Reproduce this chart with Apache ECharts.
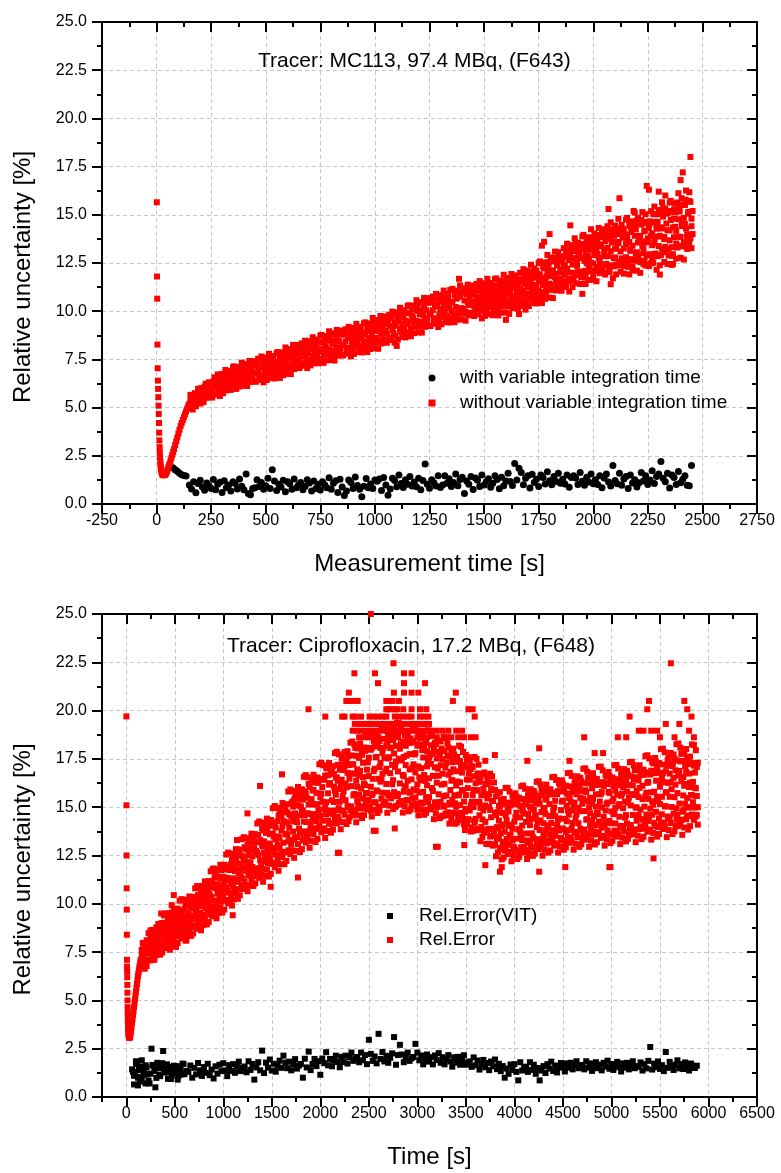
<!DOCTYPE html>
<html>
<head>
<meta charset="utf-8">
<script src="https://cdn.jsdelivr.net/npm/echarts@6/dist/echarts.min.js"></script>
<style>
html,body{margin:0;padding:0;background:#fff}
#chart{width:781px;height:1173px}
</style>
</head>
<body>
<div id="chart"></div>
<script>
// ---------- Upper panel: MC113, 97.4 MBq (F643) ----------
const topTitle = 'Tracer: MC113, 97.4 MBq, (F643)';
const topNames = ['with variable integration time', 'without variable integration time'];

// first seconds of the scan, constant integration time (s, %)
const topRedStartTime = [1,2,3,4,5,6,7,8,9,10,11,12,13,14,15,16,17,18,19,20,22,24,26,28,30,33,36,39,42,45,48,51,54,57,60,64,68,72,76,80,85,90,95,100,105,110,115,120,125,130,135,140,145,150];
const topRedStartValue = [15.65,11.8,10.65,8.27,7.04,6.4,5.97,5.54,5.1,4.67,4.2,3.7,3.3,2.95,2.65,2.4,2.2,2.05,1.9,1.8,1.68,1.6,1.55,1.52,1.5,1.49,1.5,1.52,1.56,1.62,1.7,1.8,1.9,2.0,2.1,2.25,2.4,2.55,2.7,2.85,3.05,3.25,3.45,3.65,3.85,4.05,4.2,4.35,4.5,4.65,4.8,4.95,5.1,5.2];

// rest of the scan: time stamps [s]; several readings per stamp
const topRedBandTime = [
155,160,165,170,175,180,185,190,195,200,205,210,215,220,225,230,235,240,245,250,
255,260,265,270,275,280,285,290,295,300,305,310,315,320,325,330,335,340,345,350,
355,360,365,370,375,380,385,390,395,400,405,410,415,420,425,430,435,440,445,450,
455,460,465,470,475,480,485,490,495,500,505,510,515,520,525,530,535,540,545,550,
555,560,565,570,575,580,585,590,595,600,605,610,615,620,625,630,635,640,645,650,
655,660,665,670,675,680,685,690,695,700,705,710,715,720,725,730,735,740,745,750,
755,760,765,770,775,780,785,790,795,800,805,810,815,820,825,830,835,840,845,850,
855,860,865,870,875,880,885,890,895,900,905,910,915,920,925,930,935,940,945,950,
955,960,965,970,975,980,985,990,995,1000,1005,1010,1015,1020,1025,1030,1035,1040,1045,1050,
1055,1060,1065,1070,1075,1080,1085,1090,1095,1100,1105,1110,1115,1120,1125,1130,1135,1140,1145,1150,
1155,1160,1165,1170,1175,1180,1185,1190,1195,1200,1205,1210,1215,1220,1225,1230,1235,1240,1245,1250,
1255,1260,1265,1270,1275,1280,1285,1290,1295,1300,1305,1310,1315,1320,1325,1330,1335,1340,1345,1350,
1355,1360,1365,1370,1375,1380,1385,1390,1395,1400,1405,1410,1415,1420,1425,1430,1435,1440,1445,1450,
1455,1460,1465,1470,1475,1480,1485,1490,1495,1500,1505,1510,1515,1520,1525,1530,1535,1540,1545,1550,
1555,1560,1565,1570,1575,1580,1585,1590,1595,1600,1605,1610,1615,1620,1625,1630,1635,1640,1645,1650,
1655,1660,1665,1670,1675,1680,1685,1690,1695,1700,1705,1710,1715,1720,1725,1730,1735,1740,1745,1750,
1755,1760,1765,1770,1775,1780,1785,1790,1795,1800,1805,1810,1815,1820,1825,1830,1835,1840,1845,1850,
1855,1860,1865,1870,1875,1880,1885,1890,1895,1900,1905,1910,1915,1920,1925,1930,1935,1940,1945,1950,
1955,1960,1965,1970,1975,1980,1985,1990,1995,2000,2005,2010,2015,2020,2025,2030,2035,2040,2045,2050,
2055,2060,2065,2070,2075,2080,2085,2090,2095,2100,2105,2110,2115,2120,2125,2130,2135,2140,2145,2150,
2155,2160,2165,2170,2175,2180,2185,2190,2195,2200,2205,2210,2215,2220,2225,2230,2235,2240,2245,2250,
2255,2260,2265,2270,2275,2280,2285,2290,2295,2300,2305,2310,2315,2320,2325,2330,2335,2340,2345,2350,
2355,2360,2365,2370,2375,2380,2385,2390,2395,2400,2405,2410,2415,2420,2425,2430,2435,2440,2445,2450,
2455
];
const topRedBandA = [
5.36,5.05,5.61,5.30,5.59,5.14,5.53,5.74,5.43,5.93,5.48,5.76,5.45,6.02,5.81,5.75,6.03,5.58,6.18,5.98,
5.86,6.24,5.74,6.16,6.43,6.08,5.96,6.34,6.23,5.98,6.54,6.42,6.17,6.73,6.37,6.61,6.22,6.53,6.80,6.44,
6.80,6.53,6.31,6.74,6.66,6.47,6.98,6.57,6.90,6.40,6.80,6.92,6.56,6.78,7.08,6.68,6.95,6.61,7.22,6.82,
6.82,7.26,6.97,6.72,7.15,6.60,7.11,7.28,6.88,7.04,6.79,7.31,7.17,7.00,7.42,6.84,7.31,7.13,7.38,7.01,
7.33,6.93,7.59,7.19,7.51,6.94,7.38,7.62,7.22,7.80,7.23,7.54,7.15,7.80,7.54,7.43,7.75,7.19,7.88,7.62,
7.47,7.94,7.29,7.80,8.14,7.67,7.51,7.98,7.82,7.48,8.18,8.02,7.68,8.37,7.90,8.20,7.68,8.06,8.39,7.92,
8.39,8.02,7.70,8.29,8.16,7.89,8.58,8.02,8.47,7.76,8.31,8.47,7.95,8.26,8.65,8.10,8.45,7.98,8.82,8.25,
8.25,8.82,8.43,8.10,8.66,7.93,8.60,8.81,8.28,8.49,8.16,8.83,8.64,8.41,8.97,8.19,8.81,8.57,8.89,8.40,
8.80,8.32,9.09,8.61,8.98,8.31,8.83,9.10,8.62,9.29,8.61,8.98,8.50,9.27,8.94,8.82,9.19,8.51,9.33,9.00,
8.83,9.40,8.61,9.23,9.65,9.06,8.86,9.44,9.24,8.20,9.68,9.48,9.06,9.91,9.33,9.69,9.05,9.51,9.92,9.34,
9.89,9.47,9.11,9.79,9.66,9.35,10.14,9.51,10.02,9.22,9.85,10.04,9.46,9.81,10.27,9.64,10.05,9.53,10.48,9.84,
9.83,10.51,10.05,9.64,10.32,9.44,10.24,10.50,9.85,10.11,9.71,10.51,10.29,10.00,10.68,9.74,10.48,10.20,11.10,9.99,
10.48,9.89,10.81,10.22,10.65,9.83,11.68,10.75,10.16,10.96,10.13,10.56,9.98,10.89,10.48,10.32,10.75,9.92,10.89,10.49,
10.27,10.98,9.94,10.72,11.22,10.47,10.20,10.91,10.64,10.09,11.15,10.88,10.33,11.39,10.63,11.07,10.24,10.81,11.31,10.55,
11.31,10.68,10.14,11.11,10.88,10.42,11.55,10.60,11.33,9.55,11.04,11.29,10.43,10.92,11.57,10.63,11.20,10.41,11.78,10.84,
10.83,9.85,11.14,10.57,11.53,10.28,11.42,11.78,10.87,11.23,10.67,11.80,11.48,11.09,12.04,10.71,11.76,11.36,11.90,11.08,
11.79,10.87,13.40,11.41,13.60,10.81,11.79,12.29,11.38,14.00,11.35,12.04,11.12,12.59,11.95,11.70,12.39,11.09,12.65,12.02,
11.70,12.73,11.26,12.40,13.13,12.06,11.69,12.72,14.45,11.59,13.12,12.75,11.98,13.52,12.45,13.08,11.91,12.74,13.48,10.90,
13.47,12.61,11.86,13.20,12.89,12.26,13.82,12.52,13.53,11.90,13.13,13.48,12.29,12.97,13.87,12.58,13.37,12.29,14.18,12.88,
12.86,14.20,13.25,15.30,13.76,11.40,13.56,14.05,12.75,13.24,12.42,14.00,13.53,15.86,14.28,12.38,13.84,13.25,13.99,12.80,
13.79,12.51,14.47,13.19,14.11,12.31,15.20,14.29,13.01,14.71,12.91,13.84,12.55,14.52,13.62,13.25,14.18,12.37,16.50,13.57,
16.30,14.56,12.48,14.04,15.04,13.53,12.99,14.41,13.87,16.20,11.90,14.35,13.25,15.37,13.85,16.00,13.06,14.20,15.20,13.68,
15.15,12.40,12.96,14.80,14.38,13.51,15.64,13.87,15.26,16.80,14.72,17.20,13.58,14.52,15.75,13.98,15.06,13.59,18.00,14.41,
14.00
];
const topRedBandB = [
5.66,4.98,4.90,5.64,5.75,5.07,5.27,5.98,5.86,5.21,6.01,5.42,5.28,6.09,6.24,5.51,5.60,6.31,6.22,5.65,
5.52,6.36,6.57,5.70,5.67,6.72,6.59,5.60,5.87,6.74,5.75,6.71,6.95,6.08,5.90,6.89,6.82,5.92,6.10,7.09,
7.14,6.12,5.97,6.99,7.11,6.09,6.34,7.33,7.11,6.13,7.25,6.36,6.12,7.24,7.42,6.33,6.42,7.41,7.23,6.37,
6.34,7.31,7.53,6.50,6.44,7.65,7.49,6.31,6.61,7.60,6.43,7.54,7.79,6.76,6.53,7.67,7.58,6.51,6.70,7.83,
7.88,6.70,6.54,7.72,7.86,6.68,6.97,8.12,7.88,6.75,8.04,7.01,6.74,8.04,8.25,7.00,7.09,8.25,8.04,7.06,
7.05,8.08,8.33,7.22,7.17,8.47,8.31,7.05,7.37,8.44,7.19,8.37,8.65,7.55,7.30,8.53,8.44,7.30,7.51,8.73,
8.77,7.51,7.32,8.58,8.71,7.45,7.75,8.96,8.70,7.47,8.85,7.75,7.44,8.82,9.03,7.69,7.79,9.00,8.78,7.71,
7.71,8.81,9.06,7.88,7.81,9.19,9.01,7.66,8.00,9.13,7.79,9.05,9.34,8.16,7.89,9.19,9.09,7.86,8.08,9.37,
9.42,8.08,7.88,9.22,9.37,8.04,8.36,9.65,9.37,8.08,9.54,8.37,8.05,9.52,9.75,8.33,8.44,9.73,9.50,8.37,
8.37,9.54,9.82,8.57,8.51,9.98,9.79,8.37,8.73,9.94,8.53,9.86,10.18,8.94,8.66,10.05,9.94,8.64,8.89,10.27,
10.31,8.89,8.70,10.11,10.28,8.86,9.19,10.57,10.28,8.90,10.46,9.22,8.89,10.44,10.69,9.19,9.30,10.68,10.43,9.23,
9.23,10.47,10.76,9.42,9.35,10.90,10.69,9.18,9.55,10.83,9.32,10.74,11.07,9.73,9.44,10.90,10.78,9.41,9.64,11.10,
11.16,9.65,9.43,10.91,11.06,9.56,9.91,11.34,11.02,9.57,11.19,9.87,9.51,11.14,11.38,9.79,9.89,11.33,11.05,9.79,
9.75,11.11,11.42,9.93,9.84,11.56,11.32,9.63,10.04,11.45,9.76,11.32,11.68,10.19,9.85,11.47,11.33,9.79,10.05,11.66,
11.70,10.03,9.78,11.42,11.59,9.93,10.31,11.89,11.53,9.93,11.72,10.26,9.86,11.66,11.93,10.16,10.28,11.86,11.56,10.16,
10.12,11.64,11.99,10.37,10.28,12.18,11.93,10.08,10.55,12.11,10.27,12.01,12.41,10.79,10.43,12.22,12.08,10.40,10.70,12.49,
12.58,10.69,10.42,12.32,12.53,10.64,11.09,12.92,12.54,10.71,12.78,11.13,10.68,12.76,13.09,11.08,11.23,13.06,12.74,11.15,
11.06,12.85,13.27,11.36,11.26,13.50,13.20,11.02,11.58,13.43,11.25,13.30,13.78,11.87,11.45,13.56,13.39,11.41,11.77,13.88,
13.96,11.74,11.41,13.60,13.83,11.62,12.13,14.25,13.78,11.63,14.03,12.09,11.55,13.95,14.32,11.97,12.13,14.25,13.85,11.98,
11.90,13.95,14.41,12.18,12.04,14.61,14.25,11.71,12.33,14.44,11.91,14.26,14.79,12.56,12.05,14.47,14.26,11.95,12.34,14.75,
14.84,12.30,11.91,14.41,14.66,12.12,12.70,15.11,14.57,12.10,14.84,12.62,11.99,14.73,15.14,12.44,12.62,15.03,14.57,12.42,
12.34,14.66,15.19,12.66,12.51,15.43,15.02,12.15,12.85,15.25,12.38,15.04,15.65,13.12,12.55,15.30,15.06,12.45,12.89,15.63,
15.72,12.87,12.45,15.28,15.58,12.73,13.39,16.12,15.53,12.77,15.86,13.37,12.68,15.78,16.26,13.23,13.44,16.17,15.67,13.27,
15.20
];
// third reading, logged for the stamps from 1455 s to 2450 s
const topRedLateFrom = 1455, topRedLateTo = 2450;
const topRedBandC = [
10.90,10.11,10.67,10.38,11.09,10.56,10.07,10.88,11.09,10.35,10.66,10.07,10.88,11.24,10.55,10.32,11.03,11.34,10.25,10.81,
11.12,10.29,10.89,10.58,11.33,10.77,10.25,11.10,11.32,10.56,10.88,10.26,11.12,11.50,10.77,10.53,11.28,11.60,10.46,11.05,
11.39,10.54,11.16,10.86,11.65,11.08,10.56,11.46,11.71,10.90,11.26,10.63,11.53,11.95,11.20,10.95,11.75,12.10,10.92,11.56,
11.92,10.99,11.68,11.36,12.23,11.60,11.03,12.02,12.30,11.43,11.82,11.13,12.12,12.58,11.77,11.50,12.37,12.76,11.48,12.17,
12.56,11.55,12.29,11.94,12.88,12.20,11.58,12.65,12.95,12.00,12.42,11.67,12.74,13.24,12.36,12.06,13.00,13.42,12.03,12.78,
13.19,12.09,12.88,12.48,13.48,12.74,12.06,13.20,13.50,12.47,12.91,12.09,13.23,13.74,12.78,12.46,13.46,13.90,12.38,13.17,
13.63,12.45,13.28,12.85,13.91,13.11,12.38,13.59,13.91,12.79,13.26,12.38,13.59,14.14,13.10,12.74,13.81,14.27,12.64,13.48,
13.96,12.70,13.59,13.13,14.26,13.40,12.62,13.91,14.25,13.06,13.56,12.62,13.91,14.49,13.38,13.00,14.14,14.63,12.89,13.78,
14.30,12.96,13.91,13.42,14.63,13.73,12.90,14.28,14.64,13.38,13.91,12.91,14.29,14.91,13.74,13.34,14.55,15.08,13.23,14.19,
14.73,13.32,14.34,13.84,15.13,14.17,13.30,14.77,15.17,13.85,14.42,13.37,14.84,15.51,14.28,13.86,15.15,15.72,13.78,14.80
];

// variable integration time: time [s] and relative uncertainty [%]
const topBlackTime = [
75,85,95,105,115,125,135,
150,160,170,180,190,200,210,220,230,240,250,260,270,280,290,300,310,320,330,340,350,360,370,380,390,400,410,420,430,440,
450,460,470,480,490,500,510,520,530,540,550,560,570,580,590,600,610,620,630,640,650,660,670,680,690,700,710,720,730,740,
750,760,770,780,790,800,810,820,830,840,850,860,870,880,890,900,910,920,930,940,950,960,970,980,990,1000,
1010,1020,1030,1040,1050,1060,1070,1080,1090,1100,1110,1120,1130,1140,1150,1160,1170,1180,1190,1200,1210,1220,1230,1240,1250,1260,1270,1280,1290,1300,
1310,1320,1330,1340,1350,1360,1370,1380,1390,1400,1410,1420,1430,1440,1450,1460,1470,1480,1490,1500,1510,1520,1530,1540,1550,1560,1570,1580,1590,1600,
1610,1620,1630,1640,1650,1660,1670,1680,1690,1700,1710,1720,1730,1740,1750,1760,1770,1780,1790,1800,1810,1820,1830,1840,1850,1860,1870,1880,1890,1900,
1910,1920,1930,1940,1950,1960,1970,1980,1990,2000,2010,2020,2030,2040,2050,2060,2070,2080,2090,2100,2110,2120,2130,2140,2150,2160,2170,2180,2190,2200,
2210,2220,2230,2240,2250,2260,2270,2280,2290,2300,2310,2320,2330,2340,2350,2360,2370,2380,2390,2400,2410,2420,2430,2440,2450
];
const topBlackValue = [
1.88,1.78,1.70,1.60,1.52,1.48,1.45,
0.99,0.78,1.16,0.58,1.06,1.23,0.88,0.71,1.09,0.95,0.81,1.27,0.74,1.02,1.13,0.60,1.20,0.85,0.99,0.67,1.16,1.06,0.78,1.30,0.92,0.74,1.55,0.55,0.48,0.81,
0.84,1.26,0.91,1.12,0.77,0.95,1.33,0.81,1.78,1.19,0.70,1.02,0.88,1.23,0.63,1.16,1.05,0.77,1.30,0.84,0.98,1.12,0.74,0.91,1.26,1.09,0.67,1.19,0.81,1.02,
0.72,1.16,1.00,0.84,1.36,0.76,1.08,1.20,0.60,1.28,0.88,0.44,0.68,1.24,1.12,0.80,1.40,0.96,0.76,0.38,0.92,1.32,0.84,1.04,0.80,1.24,
1.18,1.30,0.70,1.38,0.98,0.45,0.78,1.34,1.22,0.90,1.50,1.06,0.86,1.26,1.02,1.42,0.94,1.14,0.90,1.34,0.74,1.22,2.08,1.02,0.82,1.26,1.10,0.94,1.46,0.86,
0.99,1.47,1.07,1.31,0.91,1.11,1.55,0.95,1.27,1.39,0.55,1.19,1.03,1.43,0.75,1.35,1.23,0.91,1.51,0.99,1.15,1.31,0.87,1.07,1.47,1.27,0.79,1.39,0.95,1.19,
1.59,1.17,0.96,2.10,1.25,1.85,1.63,1.00,1.33,1.46,0.83,1.54,1.12,1.29,0.91,1.50,1.38,1.04,1.67,1.21,1.00,1.42,1.17,1.59,1.08,1.29,1.04,1.50,0.87,1.38,
1.47,1.35,1.01,1.64,1.18,0.97,1.39,1.14,1.56,1.05,1.26,1.01,1.47,0.84,1.35,1.56,1.14,0.93,2.00,1.22,1.05,1.60,0.97,1.30,1.43,0.80,1.51,1.09,1.26,0.88,
1.10,1.64,1.19,1.46,1.01,1.24,1.73,1.06,1.42,1.55,2.20,1.33,1.15,1.60,0.83,1.51,1.37,1.01,1.69,1.10,1.28,1.46,0.97,0.95,2.00
];

// ---------- Lower panel: Ciprofloxacin, 17.2 MBq (F648) ----------
const botTitle = 'Tracer: Ciprofloxacin, 17.2 MBq, (F648)';
const botNames = ['Rel.Error(VIT)', 'Rel.Error'];
const botMajorTicks = [0,500,1000,1500,2000,2500,3000,3500,4000,4500,5000,5500,6000,6500];

// start of the acquisition (s, %)
const botRedEarlyTime = [1,2,3,4,5,6,7,8,9,10,11,12,13,14,15,16,17,18,19,20,22,24,27,30,33,36,39,42,46,50,55,60,65,70,75,80,85,90,95,100,105,110,115,120,125,130,135,140,145,150];
const botRedEarlyValue = [19.7,15.1,12.5,10.8,9.7,8.4,7.1,6.75,6.5,6.2,5.8,5.4,5.0,4.65,4.35,4.1,3.9,3.7,3.55,3.45,3.3,3.2,3.12,3.08,3.06,3.08,3.12,3.2,3.32,3.45,3.65,3.85,4.05,4.25,4.45,4.65,4.85,5.05,5.25,5.45,5.65,5.85,6.05,6.25,6.4,6.55,6.7,6.85,7.0,7.1];

// each row: time [s], then the readings logged at that time [%]
const botRedRows = [
[160,6.94,7.35,7.62],[180,7.60,7.18,7.86],[200,7.43,7.95,7.06],[220,7.95,7.49,7.74],[240,7.44,8.00,7.71],[260,8.31,7.40,8.04],[280,7.99,7.76,8.33],
[300,7.68,8.64,8.25],[320,8.49,8.09,7.72],[340,7.98,8.69,8.29],[360,8.56,7.93,8.97],[380,7.78,8.52,8.77],[400,9.02,8.44,8.05],[420,8.32,8.91,7.95],[440,8.79,8.09,9.30],[460,8.33,8.94,8.60],[480,9.23,8.51,8.89],
[500,8.34,9.50,8.69],[520,8.97,9.25,8.54],[540,9.54,8.39,8.86],[560,8.75,9.22,9.66],[580,9.51,8.66,9.14],[600,8.99,9.74,8.50],[620,10.08,9.21,8.90],[640,8.77,9.47,9.93],[660,9.77,9.07,10.20],[680,9.37,10.20,8.78],
[700,10.08,9.36,9.76],[720,9.20,10.05,9.61],[740,10.45,9.08,10.04],[760,9.88,9.54,10.38],[780,9.38,10.74,10.18],[800,10.50,9.94,9.42],[820,9.76,10.78,10.20],[840,10.56,9.67,11.14],[860,9.44,10.49,10.85],[880,11.18,10.35,9.80],
[900,10.16,11.00,9.65],[920,10.82,9.82,11.53],[940,10.14,11.01,10.53],[960,11.39,10.37,10.91],[980,10.12,11.75,10.61],
[1000,11.00,11.40,10.40],[1020,11.81,10.19,10.85],[1040,10.68,11.34,11.96],[1060,11.75,10.58,11.24],[1080,11.02,12.05,10.35],[1100,12.52,11.32,10.91],[1120,10.74,11.69,12.32],[1140,12.09,11.14,12.68],[1160,11.56,12.67,10.76],[1180,12.50,11.54,12.07],
[1200,11.31,12.45,11.85],[1220,12.93,11.13,12.39],[1240,12.15,11.71,12.81],[1260,11.46,13.24,12.52],[1280,12.88,12.15,11.48],[1300,11.90,13.18,12.46],[1320,12.88,11.75,13.61],[1340,11.42,12.73,13.19],[1360,13.56,12.53,11.84],[1380,12.26,13.30,11.62],
[1400,13.03,11.81,13.90],[1420,12.18,13.23,12.65],[1440,13.67,12.43,13.08],[1460,12.09,14.05,12.68],[1480,13.12,13.60,12.40],[1500,14.04,12.12,12.90],[1520,12.70,13.48,14.21],[1540,13.94,12.54,13.33],[1560,13.06,14.28,12.27],[1580,14.81,13.40,12.90],
[1600,12.69,13.80,14.55],[1620,14.28,13.16,14.97],[1640,13.62,14.94,12.67],[1660,14.73,13.59,14.22],[1680,13.30,14.63,13.93],[1700,15.18,13.07,14.54],[1720,14.26,13.74,15.03],[1740,13.44,15.52,14.68],[1760,15.09,14.23,13.45],[1780,13.90,15.43,14.57],
[1800,15.04,13.70,15.91],[1820,13.28,14.84,15.39],[1840,15.82,14.58,13.75],[1860,14.23,15.49,13.47],[1880,15.14,13.66,16.20],[1900,14.08,15.36,14.65],[1920,15.86,14.35,15.14],[1940,13.91,16.32,14.64],[1960,15.15,15.74,14.27],[1980,16.26,13.88,14.85],
[2000,14.55,15.53,16.43],[2020,16.04,14.30,15.28],[2040,14.89,16.42,13.90],[2060,17.04,15.26,14.64],[2080,14.31,15.72,16.65],[2100,16.25,14.83,17.12],[2120,15.36,17.04,14.16],[2140,16.72,15.27,16.07],[2160,14.83,16.54,15.65],[2180,17.19,14.49,16.37],
[2200,15.94,15.28,16.94],[2220,14.82,17.51,16.42],[2240,16.92,15.82,14.80],[2260,15.36,17.33,16.22],[2280,16.78,15.06,17.90],[2300,14.48,16.48,17.18],[2320,17.68,16.09,15.04],[2340,15.61,17.21,14.64],[2360,16.73,14.85,18.07],[2380,15.34,16.96,16.06],
[2400,17.55,15.64,16.64],[2420,15.04,18.07,15.96],[2440,16.56,17.30,15.45],[2460,17.92,14.93,16.14],[2480,15.72,16.94,18.07],[2500,17.56,15.37,16.61],[2520,16.06,17.97,14.82],[2540,18.68,16.47,15.70],[2560,15.26,16.99,18.14],[2580,17.60,15.87,18.66],
[2600,16.47,18.51,15.02],[2620,18.07,16.32,17.29],[2640,15.75,17.81,16.73],[2660,18.54,15.29,17.55],[2680,16.99,16.20,18.18],[2700,15.63,18.80,17.52],[2720,18.06,16.76,15.57],[2740,16.19,18.49,17.19],[2760,17.78,15.78,19.08],[2780,15.07,17.37,18.17],
[2800,18.65,16.85,15.65],[2820,16.23,18.03,15.13],[2840,17.42,15.32,18.92],[2860,15.80,17.60,16.60],[2880,18.18,16.08,17.18],[2900,15.37,18.67,16.37],[2920,16.95,17.75,15.75],[2940,18.34,15.14,16.44],[2960,15.92,17.22,18.42],[2980,17.80,15.50,16.80],
[3000,16.18,18.18,14.88],[3020,18.84,16.55,15.76],[3040,15.24,17.02,18.21],[3060,17.57,15.79,18.66],[3080,16.36,18.42,14.88],[3100,17.90,16.13,17.11],[3120,15.52,17.57,16.50],[3140,18.21,15.01,17.24],[3160,16.62,15.84,17.78],[3180,15.24,18.33,17.07],
[3200,17.52,16.27,15.12],[3220,15.67,17.87,16.63],[3240,17.17,15.27,18.40],[3260,14.56,16.73,17.49],[3280,17.91,16.21,15.08],[3300,15.61,17.30,14.57],[3320,16.68,14.72,18.09],[3340,15.14,16.82,15.89],[3360,17.33,15.37,16.40],[3380,14.68,17.73,15.61],
[3400,16.12,16.86,15.02],[3420,17.35,14.42,15.61],[3440,15.11,16.29,17.39],[3460,16.79,14.70,15.88],[3480,15.29,17.10,14.11],[3500,17.70,15.63,14.91],[3520,14.38,15.99,17.06],[3540,16.43,14.83,17.41],[3560,15.28,17.13,13.95],[3580,16.60,15.01,15.89],
[3600,14.40,16.24,15.28],[3620,16.75,13.88,15.88],[3640,15.27,14.58,16.31],[3660,13.98,16.73,15.61],[3680,15.95,14.83,13.81],[3700,14.24,16.19,15.09],[3720,15.46,13.79,16.55],[3740,13.11,15.01,15.67],[3760,15.94,14.48,13.51],[3780,13.88,15.32,13.01],
[3800,14.71,13.07,15.89],[3820,13.36,14.74,13.97],[3840,15.07,13.48,14.31],[3860,12.90,15.38,13.65],[3880,14.10,14.70,13.20],[3900,15.15,12.75,13.73],[3920,13.35,14.33,15.23],[3940,14.78,13.05,14.03],[3960,13.58,15.08,12.60],[3980,15.60,13.88,13.28],
[4000,12.90,14.25,15.15],[4020,14.72,13.37,15.55],[4040,13.85,15.43,12.73],[4060,15.07,13.72,14.47],[4080,13.30,14.88,14.05],[4100,15.42,12.95,14.67],[4120,14.24,13.64,15.14],[4140,13.22,15.62,14.65],[4160,15.04,14.07,13.17],[4180,13.65,15.37,14.40],
[4200,14.87,13.37,15.84],[4220,12.86,14.59,15.19],[4240,15.59,14.24,13.34],[4260,13.82,15.18,12.99],[4280,14.75,13.16,15.89],[4300,13.56,14.93,14.17],[4320,15.42,13.81,14.65],[4340,13.29,15.83,14.06],[4360,14.54,15.16,13.61],[4380,15.66,13.17,14.18],
[4400,13.81,14.82,15.76],[4420,15.33,13.52,14.54],[4440,14.09,15.67,13.06],[4460,16.25,14.42,13.79],[4480,13.41,14.85,15.81],[4500,15.34,13.90,16.22],[4520,14.40,16.08,13.20],[4540,15.71,14.27,15.07],[4560,13.81,15.49,14.61],[4580,16.08,13.44,15.28],
[4600,14.82,14.18,15.78],[4620,13.72,16.28,15.24],[4640,15.67,14.63,13.67],[4660,14.17,16.01,14.97],[4680,15.48,13.88,16.52],[4700,13.34,15.18,15.82],[4720,16.24,14.80,13.84],[4740,14.35,15.79,13.47],[4760,15.32,13.64,16.52],[4780,14.05,15.49,14.69],
[4800,15.98,14.30,15.18],[4820,13.74,16.38,14.54],[4840,15.03,15.67,14.07],[4860,16.16,13.60,14.64],[4880,14.25,15.29,16.25],[4900,15.78,13.94,14.98],[4920,14.50,16.10,13.46],[4940,16.67,14.83,14.19],[4960,13.80,15.24,16.20],[4980,15.73,14.29,16.61],
[5000,14.78,16.46,13.58],[5020,16.09,14.64,15.44],[5040,14.16,15.86,14.97],[5060,16.45,13.77,15.64],[5080,15.16,14.51,16.14],[5100,14.03,16.66,15.59],[5120,16.03,14.95,13.96],[5140,14.46,16.37,15.29],[5160,15.81,14.15,16.89],[5180,13.57,15.49,16.16],
[5200,16.60,15.09,14.08],[5220,14.60,16.13,13.67],[5240,15.63,13.85,16.91],[5260,14.30,15.84,14.99],[5280,16.39,14.59,15.53],[5300,14.01,16.85,14.87],[5320,15.42,16.11,14.38],[5340,16.68,13.89,15.03],[5360,14.62,15.75,16.80],[5380,16.31,14.29,15.43],
[5400,14.93,16.69,13.79],[5420,17.35,15.31,14.61],[5440,14.20,15.80,16.87],[5460,16.37,14.76,17.35],[5480,15.32,17.21,13.97],[5500,16.78,15.16,16.06],[5520,14.63,16.53,15.54],[5540,17.21,14.20,16.30],[5560,15.77,15.04,16.86],[5580,14.52,17.45,16.26],
[5600,16.74,15.54,14.44],[5620,15.01,17.14,15.93],[5640,16.52,14.66,17.73],[5660,14.03,16.17,16.91],[5680,17.42,15.73,14.61],[5700,15.19,16.88,14.15],[5720,16.34,14.35,17.76],[5740,14.85,16.56,15.61],[5760,17.13,15.17,16.20],[5780,14.57,17.56,15.48],
[5800,16.04,16.74,14.99],[5820,17.23,14.53,15.63],[5840,15.26,16.31,17.29],[5860,16.79,14.98,16.00],[5880,15.58,17.08,14.60],
[170,7.98,6.74,7.58],[190,6.64,7.90,7.05],[210,8.11,6.78,7.61],[230,7.09,8.48,7.47],[250,8.62,7.07,8.19],[270,7.22,8.65,7.83],[290,8.52,7.10,7.50],[310,7.34,8.78,8.33],[330,8.96,7.54,8.59],[350,7.37,8.82,7.98],
[370,9.01,7.48,8.34],[390,7.78,9.40,7.83],[410,9.50,7.70,8.70],[430,7.82,9.50,9.14],[450,9.28,7.62,8.50],[470,7.84,9.54,8.32],[490,9.74,8.06,9.14],[510,7.86,9.56,9.56],[530,9.75,7.97,8.42],[550,8.31,10.16,9.10],
[570,10.24,8.21,9.51],[590,8.33,10.21,8.67],[610,9.94,8.10,9.37],[630,8.33,10.19,9.09],[650,10.38,8.57,9.98],[670,8.34,10.17,9.40],[690,10.36,8.46,8.88],[710,8.82,10.80,9.90],[730,10.91,8.71,10.24],[750,8.87,10.90,9.42],
[770,10.63,8.63,9.88],[790,8.89,10.92,9.21],[810,11.16,9.17,10.33],[830,8.93,10.94,10.88],[850,11.17,9.06,10.05],[870,9.49,11.68,9.82],[890,11.79,9.36,10.85],[910,9.50,11.76,11.35],[930,11.46,9.25,9.94],[950,9.53,11.77,10.79],
[970,12.02,9.82,11.31],[990,9.55,11.77,10.27],[1010,12.02,9.70,11.15],[1030,10.16,12.55,10.81],[1050,12.65,10.02,11.92],[1070,10.19,12.60,11.22],[1090,12.26,9.91,10.57],[1110,10.23,12.58,11.85],[1130,12.83,10.55,12.24],[1150,10.26,12.56,11.23],
[1170,12.81,10.44,11.77],[1190,10.90,13.34,10.97],[1210,13.45,10.77,12.26],[1230,10.94,13.40,12.88],[1250,13.05,10.65,11.93],[1270,10.95,13.38,11.63],[1290,13.63,11.24,12.78],[1310,10.92,13.34,13.34],[1330,13.59,11.06,11.69],[1350,11.52,14.16,12.64],
[1370,14.26,11.34,13.21],[1390,11.49,14.20,11.98],[1410,13.80,11.14,12.97],[1430,11.45,14.14,12.54],[1450,14.41,11.77,13.81],[1470,11.41,14.07,12.95],[1490,14.34,11.55,12.16],[1510,12.06,14.95,13.64],[1530,15.06,11.89,14.09],[1550,12.06,14.98,12.86],
[1570,14.56,11.71,13.49],[1590,12.05,14.93,12.50],[1610,15.22,12.41,14.04],[1630,12.05,14.87,14.78],[1650,15.15,12.22,13.60],[1670,12.77,15.81,13.23],[1690,15.92,12.57,14.62],[1710,12.76,15.84,15.28],[1730,15.39,12.38,13.32],[1750,12.74,15.78,14.45],
[1770,16.05,13.09,15.10],[1790,12.68,15.65,13.64],[1810,15.92,12.83,14.76],[1830,13.39,16.57,14.25],[1850,16.66,13.17,15.69],[1870,13.33,16.55,14.69],[1890,16.04,12.90,13.78],[1910,13.26,16.41,15.42],[1930,16.68,13.61,15.89],[1950,13.20,16.27,14.49],
[1970,16.54,13.36,15.15],[1990,13.92,17.22,14.02],[2010,17.30,13.70,15.70],[2030,13.85,17.17,16.46],[2050,16.64,13.41,15.13],[2070,13.77,17.01,14.68],[2090,17.29,14.14,16.17],[2110,13.68,16.84,16.84],[2130,17.12,13.84,14.65],[2150,14.42,17.80,15.85],
[2170,17.87,14.16,16.53],[2190,14.33,17.74,14.95],[2210,17.19,13.86,16.15],[2230,14.23,17.56,15.58],[2250,17.85,14.61,17.12],[2270,14.13,17.39,16.03],[2290,17.66,14.28,15.02],[2310,14.84,18.34,16.75],[2330,18.40,14.57,17.23],[2350,14.72,18.25,15.68],
[2370,17.66,14.22,16.37],[2390,14.58,18.04,15.12],[2410,18.30,14.94,16.89],[2430,14.44,17.82,17.71],[2450,18.09,14.59,16.23],[2470,15.19,18.80,15.73],[2490,18.86,14.90,17.32],[2510,15.05,18.68,18.02],[2530,18.06,14.52,15.63],[2550,14.87,18.43,16.87],
[2570,18.70,15.24,17.58],[2590,14.70,18.17,15.82],[2610,18.43,14.84,17.08],[2630,15.44,19.15,16.45],[2650,19.19,15.12,18.06],[2670,15.26,19.00,16.85],[2690,18.36,14.71,15.74],[2710,15.08,18.73,17.59],[2730,19.01,15.46,18.09],[2750,14.90,18.47,16.40],
[2770,18.69,15.01,17.08],[2790,15.57,19.37,15.69],[2810,19.35,15.21,17.51],[2830,15.31,19.10,18.30],[2850,18.40,14.72,16.67],[2870,15.05,18.73,16.08],[2890,18.94,15.37,17.67],[2910,14.79,18.35,18.35],[2930,18.56,14.88,15.80],[2950,15.45,19.24,17.06],
[2970,19.22,15.08,17.73],[2990,15.18,18.97,15.87],[3010,18.26,14.58,17.11],[3030,14.90,18.57,16.39],[3050,18.76,15.22,17.96],[3070,14.61,18.15,16.67],[3090,18.34,14.71,15.50],[3110,15.25,18.98,17.29],[3130,18.94,14.89,17.70],[3150,14.98,18.68,15.99],
[3170,17.96,14.38,16.62],[3190,14.69,18.26,15.25],[3210,18.45,15.01,17.00],[3230,14.43,17.86,17.75],[3250,18.04,14.52,16.17],[3270,15.03,18.64,15.57],[3290,18.58,14.66,17.05],[3310,14.73,18.31,17.66],[3330,17.61,14.15,15.23],[3350,14.43,17.87,16.37],
[3370,18.03,14.71,16.96],[3390,14.14,17.44,15.20],[3410,17.60,14.21,16.33],[3430,14.69,18.19,15.65],[3450,18.13,14.33,17.08],[3470,14.40,17.86,15.87],[3490,17.18,13.82,14.77],[3510,14.12,17.48,16.43],[3530,17.59,14.35,16.75],[3550,13.74,16.97,15.10],
[3570,17.08,13.77,15.63],[3590,14.20,17.60,14.30],[3610,17.50,13.81,15.86],[3630,13.83,17.20,16.48],[3650,16.49,13.24,14.97],[3670,13.46,16.70,14.37],[3690,16.80,13.68,15.69],[3710,13.10,16.20,16.20],[3730,16.27,13.09,13.88],[3750,13.48,16.73,14.86],
[3770,16.60,13.07,15.33],[3790,13.06,16.28,13.64],[3810,15.56,12.46,14.59],[3830,12.65,15.72,13.90],[3850,15.78,12.82,15.02],[3870,12.30,15.24,14.01],[3890,15.43,12.39,13.06],[3910,12.87,16.00,14.58],[3930,16.00,12.58,14.96],[3950,12.68,15.81,13.53],
[3970,15.24,12.20,14.10],[3990,12.49,15.53,12.96],[4010,15.72,12.77,14.48],[4030,12.32,15.26,15.17],[4050,15.49,12.43,13.86],[4070,12.93,16.08,13.41],[4090,16.12,12.66,14.78],[4110,12.78,15.95,15.37],[4130,15.39,12.32,13.28],[4150,12.63,15.72,14.37],
[4170,15.93,12.94,14.97],[4190,12.48,15.48,13.45],[4210,15.70,12.59,14.53],[4230,13.09,16.31,13.97],[4250,16.34,12.83,15.37],[4270,12.96,16.18,14.32],[4290,15.63,12.49,13.37],[4310,12.80,15.94,14.96],[4330,16.17,13.12,15.39],[4350,12.65,15.70,13.93],
[4370,15.93,12.76,14.54],[4390,13.28,16.55,13.38],[4410,16.57,13.01,14.99],[4430,13.13,16.41,15.71],[4450,15.83,12.65,14.34],[4470,12.96,16.16,13.86],[4490,16.39,13.29,15.29],[4510,12.80,15.90,15.90],[4530,16.12,12.92,13.72],[4550,13.44,16.76,14.85],
[4570,16.78,13.16,15.47],[4590,13.29,16.62,13.89],[4610,16.03,12.80,15.02],[4630,13.11,16.36,14.43],[4650,16.60,13.45,15.89],[4670,12.95,16.11,14.79],[4690,16.35,13.08,13.80],[4710,13.61,16.99,15.45],[4730,17.01,13.32,15.88],[4750,13.45,16.84,14.38],
[4770,16.23,12.95,15.00],[4790,13.27,16.55,13.78],[4810,16.76,13.58,15.43],[4830,13.07,16.25,16.15],[4850,16.47,13.19,14.72],[4870,13.71,17.09,14.22],[4890,17.10,13.41,15.67],[4910,13.52,16.91,16.29],[4930,16.29,13.01,14.04],[4950,13.33,16.61,15.17],
[4970,16.82,13.64,15.80],[4990,13.14,16.32,14.17],[5010,16.54,13.26,15.31],[5030,13.79,17.17,14.71],[5050,17.19,13.48,16.16],[5070,13.61,17.00,15.05],[5090,16.40,13.09,14.02],[5110,13.42,16.73,15.70],[5130,16.97,13.74,16.14],[5150,13.23,16.46,14.59],
[5170,16.69,13.36,15.23],[5190,13.88,17.33,13.99],[5210,17.35,13.59,15.68],[5230,13.71,17.17,16.44],[5250,16.55,13.19,14.98],[5270,13.53,16.92,14.48],[5290,17.17,13.87,16.00],[5310,13.35,16.68,16.68],[5330,16.94,13.47,14.34],[5350,14.04,17.64,15.57],
[5370,17.69,13.73,16.26],[5390,13.85,17.52,14.52],[5410,16.89,13.32,15.77],[5430,13.67,17.27,15.13],[5450,17.55,14.03,16.76],[5470,13.48,17.02,15.54],[5490,17.29,13.61,14.42],[5510,14.20,18.00,16.28],[5530,18.03,13.87,16.76],[5550,14.01,17.84,15.05],
[5570,17.16,13.45,15.77],[5590,13.82,17.55,14.40],[5610,17.81,14.18,16.29],[5630,13.61,17.25,17.13],[5650,17.52,13.75,15.52],[5670,14.35,18.26,14.94],[5690,18.30,14.02,16.63],[5710,14.16,18.08,17.37],[5730,17.39,13.57,14.77],[5750,13.95,17.79,16.11],
[5770,18.01,14.37,16.83],[5790,13.84,17.40,14.99],[5810,17.62,14.02,16.27],[5830,14.62,18.25,15.61],[5850,18.22,14.35,17.15],[5870,14.52,17.95,15.98],[5890,17.30,14.10,15.00]
];

// sparse high / low readings [time s, %]
const botRedExtra = [
[2520,25.0],
[2754,22.45],[5612,22.45],
[2351,21.93],[2563,21.93],[2862,21.93],[2940,21.93],
[2594,21.42],[2862,21.42],[3079,21.42],
[2294,20.93],[2758,20.93],[2862,20.93],[2940,20.93],[3010,20.93],[3396,20.93],
[2268,20.5],[2290,20.5],[2333,20.5],[2385,20.5],[2680,20.5],[2700,20.5],[2745,20.5],[2810,20.5],[3366,20.5],[5387,20.5],[5751,20.5],
[1878,20.07],[2680,20.07],[2700,20.07],[2720,20.07],[2767,20.07],[2790,20.07],[2854,20.07],[2940,20.07],[3027,20.07],[3092,20.07],[3526,20.07],[3569,20.07],[5369,20.07],[5781,20.07],
[2051,19.69],[2225,19.69],[2250,19.69],[2333,19.69],[2360,19.69],[2420,19.69],[2507,19.69],[2550,19.69],[2594,19.69],[2640,19.69],[2680,19.69],[2767,19.69],[2810,19.69],[2854,19.69],[2900,19.69],[2940,19.69],[3027,19.69],[3070,19.69],[3114,19.69],[3591,19.69],[5187,19.69],[5825,19.69],
[2355,19.31],[2400,19.31],[2440,19.31],[2490,19.31],[2530,19.31],[2575,19.31],[2620,19.31],[2665,19.31],[2710,19.31],[2755,19.31],[2800,19.31],[2845,19.31],[2890,19.31],[2935,19.31],[2980,19.31],[3025,19.31],[3070,19.31],[3120,19.31],[5560,19.31],[5700,19.31],
[2333,18.96],[2375,18.96],[2420,18.96],[2465,18.96],[2510,18.96],[2555,18.96],[2600,18.96],[2645,18.96],[2690,18.96],[2735,18.96],[2780,18.96],[2825,18.96],[2870,18.96],[2915,18.96],[2960,18.96],[3005,18.96],[3050,18.96],[3095,18.96],[3140,18.96],[3201,18.96],[3260,18.96],[3320,18.96],[3400,18.96],[3461,18.96],[5282,18.96],[5330,18.96],[5410,18.96],[5470,18.96],[5800,18.96],
[2400,18.62],[2450,18.62],[2500,18.62],[2600,18.62],[2700,18.62],[2800,18.62],[2900,18.62],[3000,18.62],[3100,18.62],[3200,18.62],[3300,18.62],[3350,18.62],[3420,18.62],[3480,18.62],[3550,18.62],[3600,18.62],[4719,18.62],[5066,18.62],[5152,18.62],[5500,18.62],[5650,18.62],[5850,18.62],
[1379,16.1],[1605,16.7],[1249,14.68],[1141,13.3],[902,11.83],[729,10.88],[490,10.45],[468,9.93],[360,9.5],[4255,18.05],[3799,17.7],[3700,17.4],[4133,17.4],[4567,17.4],[4827,17.8],[4914,17.8],
[3700,12.0],[3851,11.66],[3870,11.9],[4255,11.66],[4524,11.9],[4979,11.9],[4990,11.9],[5434,12.35],[3483,13.04],[3192,12.95],[3210,12.95],[2181,12.64],[2195,12.64],[2550,13.78],[2570,13.78],[2767,13.9],[1769,11.36],[1488,10.88],[1097,9.41],[512,7.77],[620,8.1]
];

// Rel.Error(VIT): time [s] and relative uncertainty [%]
const botBlackTime = [
60,80,100,120,140,160,180,200,220,240,260,280,300,320,340,360,380,400,420,440,460,480,500,520,540,560,580,600,620,
640,660,680,700,720,740,760,780,800,820,840,860,880,900,920,940,960,980,
1000,1020,1040,1060,1080,1100,1120,1140,1160,1180,1200,1220,1240,1260,1280,1300,1320,1340,1360,1380,1400,1420,1440,1460,1480,1500,1520,1540,1560,1580,
1600,1620,1640,1660,1680,1700,1720,1740,1760,1780,1800,1820,1840,1860,1880,
1900,1920,1940,1960,1980,2000,2020,2040,2060,2080,2100,2120,2140,2160,2180,2200,2220,2240,2260,2280,
2300,2320,2340,2360,2380,2400,2420,2440,2460,2480,2500,2520,2540,2560,2580,2600,2620,2640,2660,2680,2700,2720,2740,2760,2780,2800,2820,2840,2860,2880,2900,2920,2940,2960,2980,
3000,3020,3040,3060,3080,3100,3120,3140,3160,3180,3200,3220,3240,3260,3280,3300,3320,3340,3360,3380,3400,3420,3440,3460,3480,
3500,3520,3540,3560,3580,3600,3620,3640,3660,3680,3700,3720,3740,3760,3780,3800,3820,3840,3860,3880,3900,3920,3940,3960,3980,
4000,4020,4040,4060,4080,4100,4120,4140,4160,4180,4200,4220,4240,4260,4280,4300,4320,4340,4360,4380,4400,4420,4440,4460,4480,
4500,4520,4540,4560,4580,4600,4620,4640,4660,4680,4700,4720,4740,4760,4780,4800,4820,4840,4860,4880,4900,4920,4940,4960,4980,
5000,5020,5040,5060,5080,5100,5120,5140,5160,5180,5200,5220,5240,5260,5280,5300,5320,5340,5360,5380,5400,5420,5440,5460,5480,
5500,5520,5540,5560,5580,5600,5620,5640,5660,5680,5700,5720,5740,5760,5780,5800,5820,5840,5860,5880
];
const botBlackValue = [
1.43,1.10,1.73,0.60,1.56,0.97,1.35,1.64,1.18,0.70,2.50,1.60,0.50,1.77,1.14,1.52,2.38,1.39,1.69,1.27,0.93,1.56,1.22,1.60,1.10,1.43,1.73,1.18,1.35,
1.30,1.63,1.00,1.51,1.17,1.76,1.38,1.09,1.55,1.25,1.72,1.13,1.42,0.96,1.59,1.21,1.67,1.34,
1.75,1.38,1.08,1.65,1.35,1.70,1.25,1.56,1.83,1.34,1.50,1.58,1.28,1.85,1.40,1.71,0.90,1.53,1.80,1.38,2.40,1.24,1.78,1.52,1.94,1.37,1.72,1.31,1.61,1.88,
1.51,2.14,1.78,1.49,1.83,1.38,1.69,1.96,1.47,1.63,1.71,1.00,1.98,1.53,2.35,
1.39,1.71,1.97,1.60,1.86,1.15,1.99,1.75,2.32,1.64,1.97,1.59,1.89,2.14,1.81,1.54,2.08,1.81,2.14,1.73,
2.07,2.30,1.87,2.00,2.07,1.80,2.30,1.90,2.17,1.70,2.96,2.23,1.87,2.10,1.74,3.27,1.97,2.33,1.84,2.13,1.77,2.03,2.26,3.10,1.67,2.17,2.70,2.20,1.80,2.07,2.30,1.87,2.00,2.07,2.75,
2.30,1.90,2.15,1.69,1.98,2.20,1.83,2.06,1.69,2.15,1.91,2.27,1.77,2.06,1.69,1.95,2.17,1.84,1.57,2.06,1.78,2.08,1.67,1.93,2.16,
1.67,1.79,1.84,1.56,2.05,1.64,1.89,1.42,1.70,1.92,1.54,1.76,1.39,1.84,1.59,1.94,1.44,1.72,1.34,1.60,1.00,1.47,1.20,1.68,1.40,
1.70,1.30,0.86,1.80,1.37,1.50,1.57,1.30,1.80,1.40,1.67,1.20,1.50,0.86,1.37,1.60,1.24,1.70,1.47,1.83,1.34,1.63,1.27,1.53,1.76,
1.54,1.32,1.74,1.52,1.77,1.43,1.66,1.85,1.49,1.60,1.66,1.43,1.85,1.52,1.74,1.35,1.60,1.80,1.49,1.68,1.38,1.77,1.57,1.88,1.46,
1.71,1.40,1.63,1.82,1.54,1.32,1.74,1.52,1.77,1.43,1.66,1.85,1.49,1.60,1.56,1.79,1.37,1.70,1.48,1.87,2.59,1.42,1.73,1.54,1.84,
1.45,1.65,1.34,2.33,1.51,1.82,1.59,1.40,1.68,1.90,1.48,1.70,1.45,1.79,1.56,1.37,1.73,1.62,1.50,1.62
];
// additional Rel.Error(VIT) readings early in the scan [time s, %]
const botBlackExtra = [
[70,1.30],[90,1.12],[110,1.71],[130,1.39],[150,1.03],[170,1.57],[190,1.17],[210,1.53],[230,0.85],[250,1.21],[270,1.66],[290,1.35],[310,0.99],[330,1.48],
[350,1.08],[370,1.75],[390,1.26],[410,1.57],[430,0.94],[450,1.44],[470,1.12],[490,1.62],[510,1.30],[530,0.90],[550,1.53],[570,1.17],[590,1.71],
[80,0.65],[100,1.85],[120,1.00],[140,0.80],[160,1.90],[180,1.15],[200,0.70]
];

// ---------- chart ----------
const FONT = '"Liberation Sans", Arial, Helvetica, sans-serif';
const INK = '#000';
const RED = '#ff0000';
const axisLineStyle = { show: true, onZero: false, lineStyle: { color: INK, width: 2 } };
const dashGrid = { show: true, lineStyle: { color: '#c8c8c8', width: 1, type: [4, 3] } };
const tickLabel = { fontSize: 16, fontFamily: FONT, color: INK };

const zip = (ts, vs) => ts.map((t, i) => [t, vs[i]]);
const topRedLateTime = topRedBandTime.filter(t => t >= topRedLateFrom && t <= topRedLateTo);
const topRedData = zip(topRedStartTime, topRedStartValue)
  .concat(zip(topRedBandTime, topRedBandA))
  .concat(zip(topRedBandTime, topRedBandB))
  .concat(zip(topRedLateTime, topRedBandC));
const topBlackData = zip(topBlackTime, topBlackValue);
const botRedData = zip(botRedEarlyTime, botRedEarlyValue)
  .concat(botRedRows.flatMap(r => r.slice(1).map(v => [r[0], v])))
  .concat(botRedExtra);
const botBlackData = zip(botBlackTime, botBlackValue).concat(botBlackExtra);

function yPair(gridIndex) {
  return [
    {
      type: 'value', gridIndex, position: 'left', min: 0, max: 25, interval: 2.5,
      name: 'Relative uncertainty [%]', nameLocation: 'middle', nameGap: 67,
      nameTextStyle: { fontSize: 24, fontFamily: FONT, color: INK, padding: [0, 28, 0, 0] },
      axisLine: axisLineStyle,
      axisTick: { show: true, length: 10, lineStyle: { color: INK, width: 2 } },
      minorTick: { show: true, splitNumber: 2, length: 5, lineStyle: { color: INK, width: 2 } },
      axisLabel: Object.assign({ margin: 15, formatter: v => v.toFixed(1) }, tickLabel),
      splitLine: dashGrid
    },
    {
      type: 'value', gridIndex, position: 'right', min: 0, max: 25, interval: 2.5,
      axisLine: axisLineStyle,
      axisTick: { show: true, inside: true, length: 10, lineStyle: { color: INK, width: 2 } },
      minorTick: { show: true, splitNumber: 2, length: 5, lineStyle: { color: INK, width: 2 } },
      axisLabel: { show: false }, splitLine: { show: false }
    }
  ];
}

const xAxes = [
  // upper panel
  {
    type: 'value', gridIndex: 0, position: 'bottom', min: -250, max: 2750, interval: 250,
    name: 'Measurement time [s]', nameLocation: 'middle', nameGap: 48,
    nameTextStyle: { fontSize: 24, fontFamily: FONT, color: INK },
    axisLine: axisLineStyle,
    axisTick: { show: true, length: 10, lineStyle: { color: INK, width: 2 } },
    minorTick: { show: true, splitNumber: 2, length: 5, lineStyle: { color: INK, width: 2 } },
    axisLabel: Object.assign({ margin: 9, formatter: v => String(v) }, tickLabel),
    splitLine: dashGrid
  },
  {
    type: 'value', gridIndex: 0, position: 'top', min: -250, max: 2750, interval: 250,
    axisLine: axisLineStyle,
    axisTick: { show: true, inside: true, length: 10, lineStyle: { color: INK, width: 2 } },
    minorTick: { show: true, splitNumber: 2, length: 5, lineStyle: { color: INK, width: 2 } },
    axisLabel: { show: false }, splitLine: { show: false }
  },
  // lower panel: labelled ticks every 500 s, short ticks every 250 s
  {
    type: 'value', gridIndex: 1, position: 'bottom', min: -250, max: 6500,
    name: 'Time [s]', nameLocation: 'middle', nameGap: 48,
    nameTextStyle: { fontSize: 24, fontFamily: FONT, color: INK },
    axisLine: axisLineStyle,
    axisTick: { show: true, length: 10, customValues: botMajorTicks, lineStyle: { color: INK, width: 2 } },
    axisLabel: Object.assign({ margin: 9, customValues: botMajorTicks, formatter: v => String(v) }, tickLabel),
    splitLine: dashGrid
  },
  {
    type: 'value', gridIndex: 1, position: 'bottom', min: -250, max: 6500, interval: 250,
    axisLine: { show: false, onZero: false },
    axisTick: { show: true, length: 5, lineStyle: { color: INK, width: 2 } },
    axisLabel: { show: false }, splitLine: { show: false }
  },
  {
    type: 'value', gridIndex: 1, position: 'top', min: -250, max: 6500,
    axisLine: axisLineStyle,
    axisTick: { show: true, inside: true, length: 10, customValues: botMajorTicks, lineStyle: { color: INK, width: 2 } },
    axisLabel: { show: false }, splitLine: { show: false }
  },
  {
    type: 'value', gridIndex: 1, position: 'top', min: -250, max: 6500, interval: 250,
    axisLine: { show: false, onZero: false },
    axisTick: { show: true, inside: true, length: 5, lineStyle: { color: INK, width: 2 } },
    axisLabel: { show: false }, splitLine: { show: false }
  }
];

const legendText = { fontSize: 19, fontFamily: FONT, color: INK };

const option = {
  animation: false,
  backgroundColor: '#fff',
  textStyle: { fontFamily: FONT },
  title: [
    { text: topTitle, left: 258, top: 51, padding: 0,
      textStyle: { fontSize: 21, fontWeight: 'normal', fontFamily: FONT, color: INK } },
    { text: botTitle, left: 227, top: 636, padding: 0,
      textStyle: { fontSize: 21, fontWeight: 'normal', fontFamily: FONT, color: INK } }
  ],
  legend: [
    { orient: 'vertical', left: 428.5, top: 368.5, padding: 0, itemGap: 6, itemWidth: 7, itemHeight: 7,
      selectedMode: false,
      textStyle: Object.assign({ padding: [0, 0, 0, 19.5] }, legendText),
      data: [{ name: topNames[0], icon: 'circle' }, { name: topNames[1], icon: 'rect' }] },
    { orient: 'vertical', left: 387, top: 906.5, padding: 0, itemGap: 5, itemWidth: 6, itemHeight: 6,
      selectedMode: false,
      textStyle: Object.assign({ padding: [0, 0, 0, 21] }, legendText),
      data: [{ name: botNames[0], icon: 'rect' }, { name: botNames[1], icon: 'rect' }] }
  ],
  grid: [
    { left: 102, top: 22, width: 655, height: 482 },
    { left: 102, top: 614, width: 655, height: 483 }
  ],
  xAxis: xAxes,
  yAxis: yPair(0).concat(yPair(1)),
  series: [
    { type: 'scatter', name: topNames[0], xAxisIndex: 0, yAxisIndex: 0, symbol: 'circle', symbolSize: 7,
      itemStyle: { color: INK, opacity: 1 }, silent: true, data: topBlackData },
    { type: 'scatter', name: topNames[1], xAxisIndex: 0, yAxisIndex: 0, symbol: 'rect', symbolSize: 6,
      itemStyle: { color: RED, opacity: 1 }, silent: true, data: topRedData },
    { type: 'scatter', name: botNames[0], xAxisIndex: 2, yAxisIndex: 2, symbol: 'rect', symbolSize: 6,
      itemStyle: { color: INK, opacity: 1 }, silent: true, data: botBlackData },
    { type: 'scatter', name: botNames[1], xAxisIndex: 2, yAxisIndex: 2, symbol: 'rect', symbolSize: 6,
      itemStyle: { color: RED, opacity: 1 }, silent: true, data: botRedData }
  ]
};

const chart = echarts.init(document.getElementById('chart'), null, { renderer: 'canvas' });
chart.setOption(option);
</script>
</body>
</html>
